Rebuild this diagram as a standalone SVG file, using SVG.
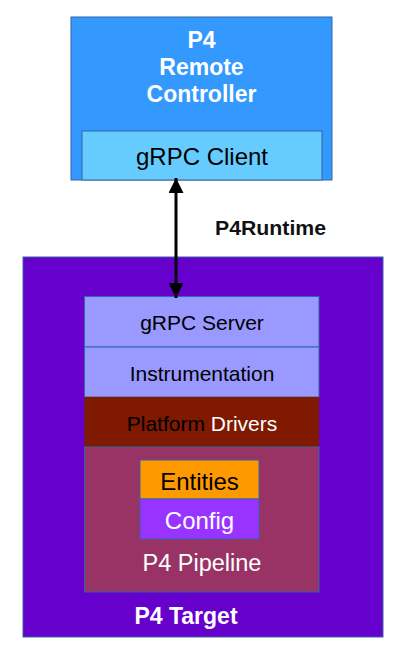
<svg xmlns="http://www.w3.org/2000/svg" width="400" height="650" viewBox="0 0 400 650">
<defs>
<style>
text{font-family:"Liberation Sans",Arial,sans-serif;text-anchor:middle}
.b{font-weight:bold}
.w{fill:#ffffff}
.k{fill:#000000}
.box{stroke:#3465a4;stroke-width:1}
.conn{stroke:#000;stroke-width:3;fill:none}
</style>
<marker id="ah" viewBox="0 0 15 15" refX="15" refY="7.5" markerWidth="15" markerHeight="15" markerUnits="userSpaceOnUse" orient="auto-start-reverse">
<path d="M0,0 L15,7.5 L0,15 Z" fill="#000"/>
</marker>
</defs>
<rect width="400" height="650" fill="#ffffff"/>
<g id="controller">
<rect class="box" x="71" y="17" width="261" height="163" fill="#3399ff"/>
<text class="b w" x="201.5" y="48" font-size="23">P4</text>
<text class="b w" x="201.5" y="75" font-size="23">Remote</text>
<text class="b w" x="201.5" y="102" font-size="23">Controller</text>
</g>
<g id="grpc-client">
<rect class="box" x="82" y="131" width="240" height="49" fill="#66ccff"/>
<text class="k" x="202" y="165" font-size="24">gRPC Client</text>
</g>
<g id="target">
<rect class="box" x="23" y="257" width="360" height="380" fill="#6600cc"/>
<text class="b w" x="186" y="624" font-size="23">P4 Target</text>
</g>
<g id="grpc-server">
<rect class="box" x="84.5" y="296.5" width="234.5" height="50.5" fill="#9999ff"/>
<text class="k" x="202" y="330" font-size="21">gRPC Server</text>
</g>
<g id="instrumentation">
<rect class="box" x="84.5" y="347" width="234.5" height="50" fill="#9999ff"/>
<text class="k" x="202" y="381" font-size="21">Instrumentation</text>
</g>
<g id="platform-drivers">
<rect x="84.5" y="397" width="234.5" height="50" fill="#7f1900"/>
<text x="202" y="431" font-size="21"><tspan class="k">Platform</tspan> <tspan class="w">Drivers</tspan></text>
</g>
<g id="pipeline">
<rect class="box" x="84.5" y="447" width="234.5" height="145" fill="#993366"/>
<text class="w" x="202" y="571" font-size="23.5">P4 Pipeline</text>
</g>
<g id="entities">
<rect class="box" x="140" y="460" width="119" height="39" fill="#ff9900"/>
<text class="k" x="199.5" y="490" font-size="24">Entities</text>
</g>
<g id="config">
<rect class="box" x="140" y="499" width="119" height="40" fill="#9933ff"/>
<text class="w" x="199.5" y="529" font-size="24">Config</text>
</g>
<g id="connectors">
<line class="conn" x1="176" y1="178" x2="176" y2="298" marker-start="url(#ah)" marker-end="url(#ah)"/>
<text class="b" x="270.5" y="235" font-size="20" fill="#111" textLength="111" lengthAdjust="spacingAndGlyphs">P4Runtime</text>
</g>
</svg>
